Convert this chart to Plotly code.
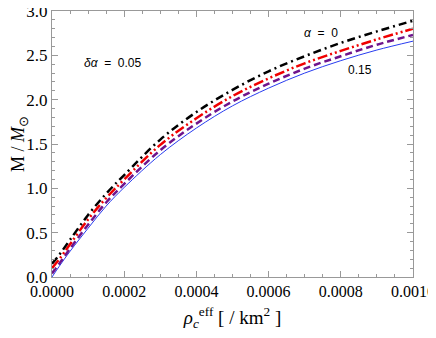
import plotly.graph_objects as go

# central effective density, / km^2
rho_c = [0, 0.00002, 0.00005, 0.0001, 0.00015, 0.0002, 0.0003, 0.0004,
         0.0005, 0.0006, 0.0007, 0.0008, 0.0009, 0.001]

# mass in solar masses, one list per alpha
mass_a000 = [0.15, 0.25, 0.42, 0.70, 0.94, 1.15, 1.55, 1.86, 2.11, 2.32, 2.49, 2.64, 2.77, 2.89]
mass_a005 = [0.10, 0.20, 0.37, 0.65, 0.89, 1.10, 1.49, 1.79, 2.04, 2.24, 2.41, 2.55, 2.68, 2.80]
mass_a010 = [0.04, 0.15, 0.32, 0.59, 0.84, 1.05, 1.43, 1.73, 1.98, 2.18, 2.35, 2.49, 2.62, 2.73]
mass_a015 = [0.00, 0.12, 0.29, 0.55, 0.80, 1.01, 1.38, 1.68, 1.93, 2.13, 2.30, 2.44, 2.56, 2.66]

x_ticks = [0, 0.0002, 0.0004, 0.0006, 0.0008, 0.001]
x_ticktext = ["0.0000", "0.0002", "0.0004", "0.0006", "0.0008", "0.0010"]

serif = "Liberation Serif, Times New Roman, serif"
sans = "Liberation Sans, Arial, sans-serif"

fig = go.Figure()

fig.add_trace(go.Scatter(x=rho_c, y=mass_a015, mode="lines", line_shape="spline",
                         line=dict(color="rgb(40, 60, 240)", width=1)))
fig.add_trace(go.Scatter(x=rho_c, y=mass_a010, mode="lines", line_shape="spline",
                         line=dict(color="rgb(110, 20, 140)", width=2.5, dash="7px,4px")))
fig.add_trace(go.Scatter(x=rho_c, y=mass_a005, mode="lines", line_shape="spline",
                         line=dict(color="rgb(240, 0, 0)", width=2.5,
                                   dash="10px,3px,2px,3px,2px,3px")))
fig.add_trace(go.Scatter(x=rho_c, y=mass_a000, mode="lines", line_shape="spline",
                         line=dict(color="black", width=2.5, dash="8px,4px,2px,4px")))

fig.add_annotation(x=0.000168, y=2.41, text="<i>δα</i>  =  0.05", showarrow=False,
                   font=dict(family=sans, size=12, color="black"))
fig.add_annotation(x=0.000745, y=2.75, text="<i>α</i>  =  0", showarrow=False,
                   font=dict(family=sans, size=12, color="black"))
fig.add_annotation(x=0.000853, y=2.33, text="0.15", showarrow=False,
                   font=dict(family=sans, size=12, color="black"))

axis_common = dict(showline=True, mirror="allticks", linecolor="#999", linewidth=1,
                   ticks="inside", tickcolor="#999", ticklen=6, showgrid=False,
                   zeroline=False, automargin=False, ticklabeloverflow="allow")

fig.update_xaxes(range=[0, 0.001], tickmode="array", tickvals=x_ticks, ticktext=x_ticktext,
                 tickfont=dict(family=serif, size=16, color="black"),
                 minor=dict(ticks="inside", dtick=0.00005, tick0=0, ticklen=3, tickcolor="#999"),
                 title=dict(text="<i>ρ<sub>c</sub></i><sup>eff</sup> [ / km<sup>2</sup> ]",
                            font=dict(family=serif, size=19, color="black"), standoff=11),
                 **axis_common)
fig.update_yaxes(range=[0, 3], dtick=0.5, tickformat=".1f",
                 tickfont=dict(family=serif, size=17, color="black"),
                 minor=dict(ticks="inside", dtick=0.1, ticklen=3, tickcolor="#999"),
                 title=dict(text="M / <i>M</i><sub>⊙</sub>",
                            font=dict(family=serif, size=18, color="black"), standoff=0),
                 **axis_common)

# the page body adds an 8px offset, so the figure is sized 8px smaller
fig.update_layout(width=428, height=330, showlegend=False,
                  margin=dict(l=44, r=23, t=3, b=61),
                  plot_bgcolor="white", paper_bgcolor="white")

fig.write_html("out.html")
